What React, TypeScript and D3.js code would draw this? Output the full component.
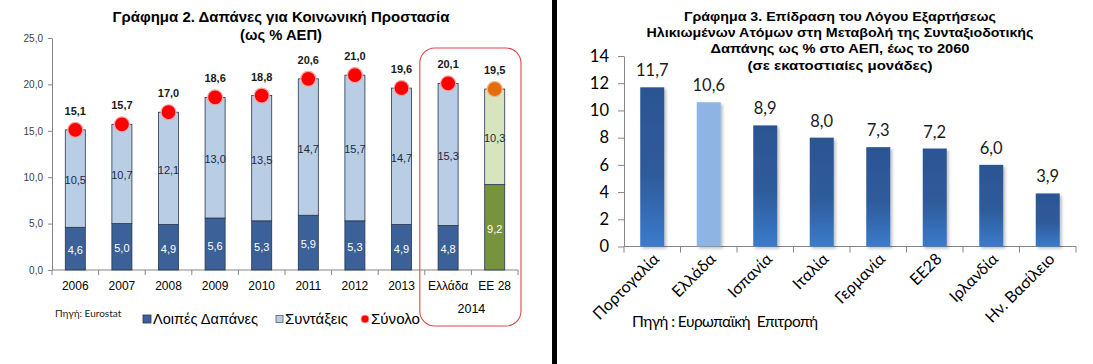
import React, { useRef, useEffect } from 'react'
import * as d3 from 'd3'

// Γράφημα 2 – Δαπάνες για Κοινωνική Προστασία (% ΑΕΠ)
const years = ['2006', '2007', '2008', '2009', '2010', '2011', '2012', '2013', 'Ελλάδα', 'ΕΕ 28']
const otherSpending = [4.6, 5.0, 4.9, 5.6, 5.3, 5.9, 5.3, 4.9, 4.8, 9.2]
const pensions = [10.5, 10.7, 12.1, 13.0, 13.5, 14.7, 15.7, 14.7, 15.3, 10.3]
const totals = [15.1, 15.7, 17.0, 18.6, 18.8, 20.6, 21.0, 19.6, 20.1, 19.5]
const leftTicks = [0, 5, 10, 15, 20, 25]

// Γράφημα 3 – Επίδραση του Λόγου Εξαρτήσεως
const countries = ['Πορτογαλία', 'Ελλάδα', 'Ισπανία', 'Ιταλία', 'Γερμανία', 'ΕΕ28', 'Ιρλανδία', 'Ην. Βασίλειο']
const dependencyEffect = [11.7, 10.6, 8.9, 8.0, 7.3, 7.2, 6.0, 3.9]
const rightTicks = [0, 2, 4, 6, 8, 10, 12, 14]

const ARIAL = '"Liberation Sans", Arial, sans-serif'
const CALIBRI = 'Lato, "Open Sans", sans-serif'
const AXIS_GREY = '#868686'

const fmt = (v: number) => v.toFixed(1).replace('.', ',')

const drawLeft = (g: any) => {
  const x = d3.scaleBand<string>().domain(years).range([52, 518]).paddingInner(0.57).paddingOuter(0.285)
  const y = d3.scaleLinear().domain([0, 25]).range([270, 38])
  const isEU = (d: string) => d === 'ΕΕ 28'
  const rows = years.map((year, i) => ({ year, other: otherSpending[i], pension: pensions[i], total: totals[i] }))

  // title
  const title = [
    { t: 'Γράφημα 2. Δαπάνες για Κοινωνική Προστασία', y: 22, w: 337 },
    { t: '(ως % ΑΕΠ)', y: 40, w: 82 }
  ]
  g.selectAll('text.title')
    .data(title)
    .join('text')
    .attr('class', 'title')
    .attr('x', 281)
    .attr('y', (d: any) => d.y)
    .attr('text-anchor', 'middle')
    .attr('font-family', ARIAL)
    .attr('font-weight', 'bold')
    .attr('font-size', 14)
    .attr('textLength', (d: any) => d.w)
    .attr('lengthAdjust', 'spacingAndGlyphs')
    .text((d: any) => d.t)

  // y axis
  const yAxis = g
    .append('g')
    .attr('transform', 'translate(52,0)')
    .call(d3.axisLeft(y).tickValues(leftTicks).tickSize(4).tickSizeOuter(0).tickPadding(5).tickFormat((d: any) => fmt(+d)))
  yAxis.select('.domain').attr('stroke', AXIS_GREY)
  yAxis.selectAll('line').attr('stroke', AXIS_GREY)
  yAxis.selectAll('text').attr('font-family', ARIAL).attr('font-size', 10).attr('fill', '#404040')

  // x axis with ticks between categories
  const half = (x.step() - x.bandwidth()) / 2
  const bounds = years.map(d => (x(d) as number) - half).concat([x.range()[1]])
  g.append('line')
    .attr('x1', x.range()[0]).attr('x2', x.range()[1])
    .attr('y1', y(0)).attr('y2', y(0))
    .attr('stroke', AXIS_GREY)
  g.selectAll('line.xtick')
    .data(bounds)
    .join('line')
    .attr('class', 'xtick')
    .attr('x1', (d: number) => d).attr('x2', (d: number) => d)
    .attr('y1', y(0)).attr('y2', y(0) + 5)
    .attr('stroke', AXIS_GREY)

  // stacked bars
  const stack = d3.stack<any>().keys(['other', 'pension'])(rows)
  const fills: any = {
    other: ['#3c6198', '#77933c'],
    pension: ['#b9cde5', '#d7e4bd']
  }
  stack.forEach((layer: any) => {
    g.append('g')
      .selectAll('rect')
      .data(layer)
      .join('rect')
      .attr('x', (d: any) => x(d.data.year))
      .attr('width', x.bandwidth())
      .attr('y', (d: any) => y(d[1]))
      .attr('height', (d: any) => y(d[0]) - y(d[1]))
      .attr('fill', (d: any) => fills[layer.key][isEU(d.data.year) ? 1 : 0])
      .attr('stroke', '#26364f')
      .attr('stroke-width', 0.8)

    g.append('g')
      .selectAll('text')
      .data(layer)
      .join('text')
      .attr('x', (d: any) => (x(d.data.year) as number) + x.bandwidth() / 2)
      .attr('y', (d: any) => y((d[0] + d[1]) / 2) + 5.5)
      .attr('text-anchor', 'middle')
      .attr('font-family', ARIAL)
      .attr('font-size', 11)
      .attr('fill', layer.key === 'other' ? '#fff' : '#1b2a40')
      .text((d: any) => fmt(d[1] - d[0]))
  })

  // totals
  g.append('g')
    .selectAll('circle')
    .data(rows)
    .join('circle')
    .attr('cx', (d: any) => (x(d.year) as number) + x.bandwidth() / 2)
    .attr('cy', (d: any) => y(d.total))
    .attr('r', 7.5)
    .attr('fill', (d: any) => (isEU(d.year) ? '#e46c0a' : '#ff0000'))
    .attr('stroke', (d: any) => (isEU(d.year) ? '#f2b48a' : '#f4a8a8'))
    .attr('stroke-width', 1.2)
  g.append('g')
    .selectAll('text')
    .data(rows)
    .join('text')
    .attr('x', (d: any) => (x(d.year) as number) + x.bandwidth() / 2)
    .attr('y', (d: any) => y(d.total) - 15)
    .attr('text-anchor', 'middle')
    .attr('font-family', ARIAL)
    .attr('font-weight', 'bold')
    .attr('font-size', 11)
    .attr('fill', '#1a1a1a')
    .text((d: any) => fmt(d.total))

  // category labels
  g.append('g')
    .selectAll('text')
    .data(years)
    .join('text')
    .attr('x', (d: string) => (x(d) as number) + x.bandwidth() / 2)
    .attr('y', 290)
    .attr('text-anchor', 'middle')
    .attr('font-family', ARIAL)
    .attr('font-size', 12)
    .attr('fill', '#000')
    .text((d: string) => d)
  const x2014 = ((x('Ελλάδα') as number) + (x('ΕΕ 28') as number) + x.bandwidth()) / 2
  g.append('text')
    .attr('x', x2014).attr('y', 313)
    .attr('text-anchor', 'middle')
    .attr('font-family', ARIAL)
    .attr('font-size', 12.5)
    .text('2014')

  // 2014 highlight frame
  g.append('rect')
    .attr('x', bounds[8] - 5)
    .attr('y', 48)
    .attr('width', bounds[10] + 3 - (bounds[8] - 5))
    .attr('height', 278)
    .attr('rx', 15)
    .attr('fill', 'none')
    .attr('stroke', '#e0474c')
    .attr('stroke-width', 1.1)

  // legend
  const lg = g.append('g').attr('font-family', ARIAL).attr('font-size', 14).attr('fill', '#000')
  lg.append('rect').attr('x', 143).attr('y', 315).attr('width', 8).attr('height', 8).attr('fill', fills.other[0]).attr('stroke', '#26364f').attr('stroke-width', 0.8)
  lg.append('text').attr('x', 153).attr('y', 324).attr('textLength', 105).attr('lengthAdjust', 'spacingAndGlyphs').text('Λοιπές Δαπάνες')
  lg.append('rect').attr('x', 276).attr('y', 315.5).attr('width', 7).attr('height', 7).attr('fill', fills.pension[0]).attr('stroke', '#5a5a5a').attr('stroke-width', 0.8)
  lg.append('text').attr('x', 285).attr('y', 324).attr('textLength', 63).attr('lengthAdjust', 'spacingAndGlyphs').text('Συντάξεις')
  lg.append('circle').attr('cx', 365).attr('cy', 319).attr('r', 4).attr('fill', '#ff0000').attr('stroke', '#f4a8a8').attr('stroke-width', 0.8)
  lg.append('text').attr('x', 371).attr('y', 324).attr('textLength', 49).attr('lengthAdjust', 'spacingAndGlyphs').text('Σύνολο')

  g.append('text')
    .attr('x', 55).attr('y', 317)
    .attr('font-family', CALIBRI)
    .attr('font-size', 10)
    .attr('fill', '#222')
    .text('Πηγή: Eurostat')
}

const drawRight = (g: any) => {
  const x = d3.scaleBand<string>().domain(countries).range([624, 1076]).paddingInner(0.575).paddingOuter(0.2875)
  const y = d3.scaleLinear().domain([0, 14]).range([246.5, 56])
  const rows = countries.map((country, i) => ({ country, value: dependencyEffect[i] }))

  const title = [
    { t: 'Γράφημα 3. Επίδραση του Λόγου Εξαρτήσεως', y: 21, w: 312 },
    { t: 'Ηλικιωμένων Ατόμων στη Μεταβολή της Συνταξιοδοτικής', y: 37, w: 387 },
    { t: 'Δαπάνης ως % στο ΑΕΠ, έως το 2060', y: 53, w: 259 },
    { t: '(σε εκατοστιαίες μονάδες)', y: 69.5, w: 185 }
  ]
  g.selectAll('text.title')
    .data(title)
    .join('text')
    .attr('class', 'title')
    .attr('x', 840)
    .attr('y', (d: any) => d.y)
    .attr('text-anchor', 'middle')
    .attr('font-family', ARIAL)
    .attr('font-weight', 'bold')
    .attr('font-size', 12.5)
    .attr('textLength', (d: any) => d.w)
    .attr('lengthAdjust', 'spacingAndGlyphs')
    .text((d: any) => d.t)

  const yAxis = g
    .append('g')
    .attr('transform', `translate(${x.range()[0]},0)`)
    .call(d3.axisLeft(y).tickValues(rightTicks).tickSize(6).tickSizeOuter(0).tickPadding(9))
  yAxis.select('.domain').attr('stroke', AXIS_GREY)
  yAxis.selectAll('line').attr('stroke', AXIS_GREY)
  yAxis.selectAll('text').attr('font-family', CALIBRI).attr('font-size', 16.5).attr('fill', '#000')

  const half = (x.step() - x.bandwidth()) / 2
  const bounds = countries.map(d => (x(d) as number) - half).concat([x.range()[1]])
  g.append('line')
    .attr('x1', x.range()[0]).attr('x2', x.range()[1])
    .attr('y1', y(0)).attr('y2', y(0))
    .attr('stroke', AXIS_GREY)
  g.selectAll('line.xtick')
    .data(bounds)
    .join('line')
    .attr('class', 'xtick')
    .attr('x1', (d: number) => d).attr('x2', (d: number) => d)
    .attr('y1', y(0)).attr('y2', y(0) + 6)
    .attr('stroke', AXIS_GREY)

  g.append('g')
    .selectAll('rect')
    .data(rows)
    .join('rect')
    .attr('x', (d: any) => x(d.country))
    .attr('width', x.bandwidth())
    .attr('y', (d: any) => y(d.value))
    .attr('height', (d: any) => y(0) - y(d.value))
    .attr('fill', (d: any) => (d.country === 'Ελλάδα' ? '#8db4e2' : 'url(#barBlue)'))
    .attr('filter', 'url(#barShadow)')

  g.append('g')
    .selectAll('text')
    .data(rows)
    .join('text')
    .attr('x', (d: any) => (x(d.country) as number) + x.bandwidth() / 2)
    .attr('y', (d: any) => y(d.value) - 11)
    .attr('text-anchor', 'middle')
    .attr('font-family', CALIBRI)
    .attr('font-size', 16.5)
    .attr('fill', '#1a1a1a')
    .text((d: any) => fmt(d.value))

  g.append('g')
    .selectAll('text')
    .data(countries)
    .join('text')
    .attr('transform', (d: string) => `translate(${(x(d) as number) + x.bandwidth() / 2 + 8},260) rotate(-45)`)
    .attr('text-anchor', 'end')
    .attr('font-family', CALIBRI)
    .attr('font-size', 16)
    .attr('fill', '#000')
    .text((d: string) => d)

  g.append('text')
    .attr('x', 632).attr('y', 327)
    .attr('font-family', CALIBRI)
    .attr('font-size', 15.5)
    .attr('fill', '#000')
    .attr('textLength', 186)
    .style('white-space', 'pre')
    .text('Πηγή : Ευρωπαϊκή  Επιτροπή')
}

export default function App() {
  const ref = useRef<SVGSVGElement>(null)

  useEffect(() => {
    if (!ref.current) return
    const svg = d3.select(ref.current)
    svg.selectAll('*').remove()

    const defs = svg.append('defs')
    const grad = defs.append('linearGradient').attr('id', 'barBlue').attr('x1', 0).attr('y1', 0).attr('x2', 0).attr('y2', 1)
    grad.append('stop').attr('offset', '0%').attr('stop-color', '#2c5592')
    grad.append('stop').attr('offset', '55%').attr('stop-color', '#2e5b9b')
    grad.append('stop').attr('offset', '100%').attr('stop-color', '#3b7bcb')
    const shadow = defs.append('filter').attr('id', 'barShadow').attr('x', '-20%').attr('y', '-10%').attr('width', '150%').attr('height', '130%')
    shadow.append('feDropShadow').attr('dx', 2).attr('dy', 2).attr('stdDeviation', 1.5).attr('flood-color', '#000').attr('flood-opacity', 0.25)

    svg.append('rect').attr('width', 1093).attr('height', 364).attr('fill', '#fff')
    drawLeft(svg.append('g'))
    drawRight(svg.append('g'))
    // divider between the two charts
    svg.append('rect').attr('x', 552).attr('y', 0).attr('width', 5).attr('height', 364).attr('fill', '#000')
  }, [])

  return <svg ref={ref} width={1093} height={364} style={{ position: 'absolute', left: 0, top: 0 }} />
}
